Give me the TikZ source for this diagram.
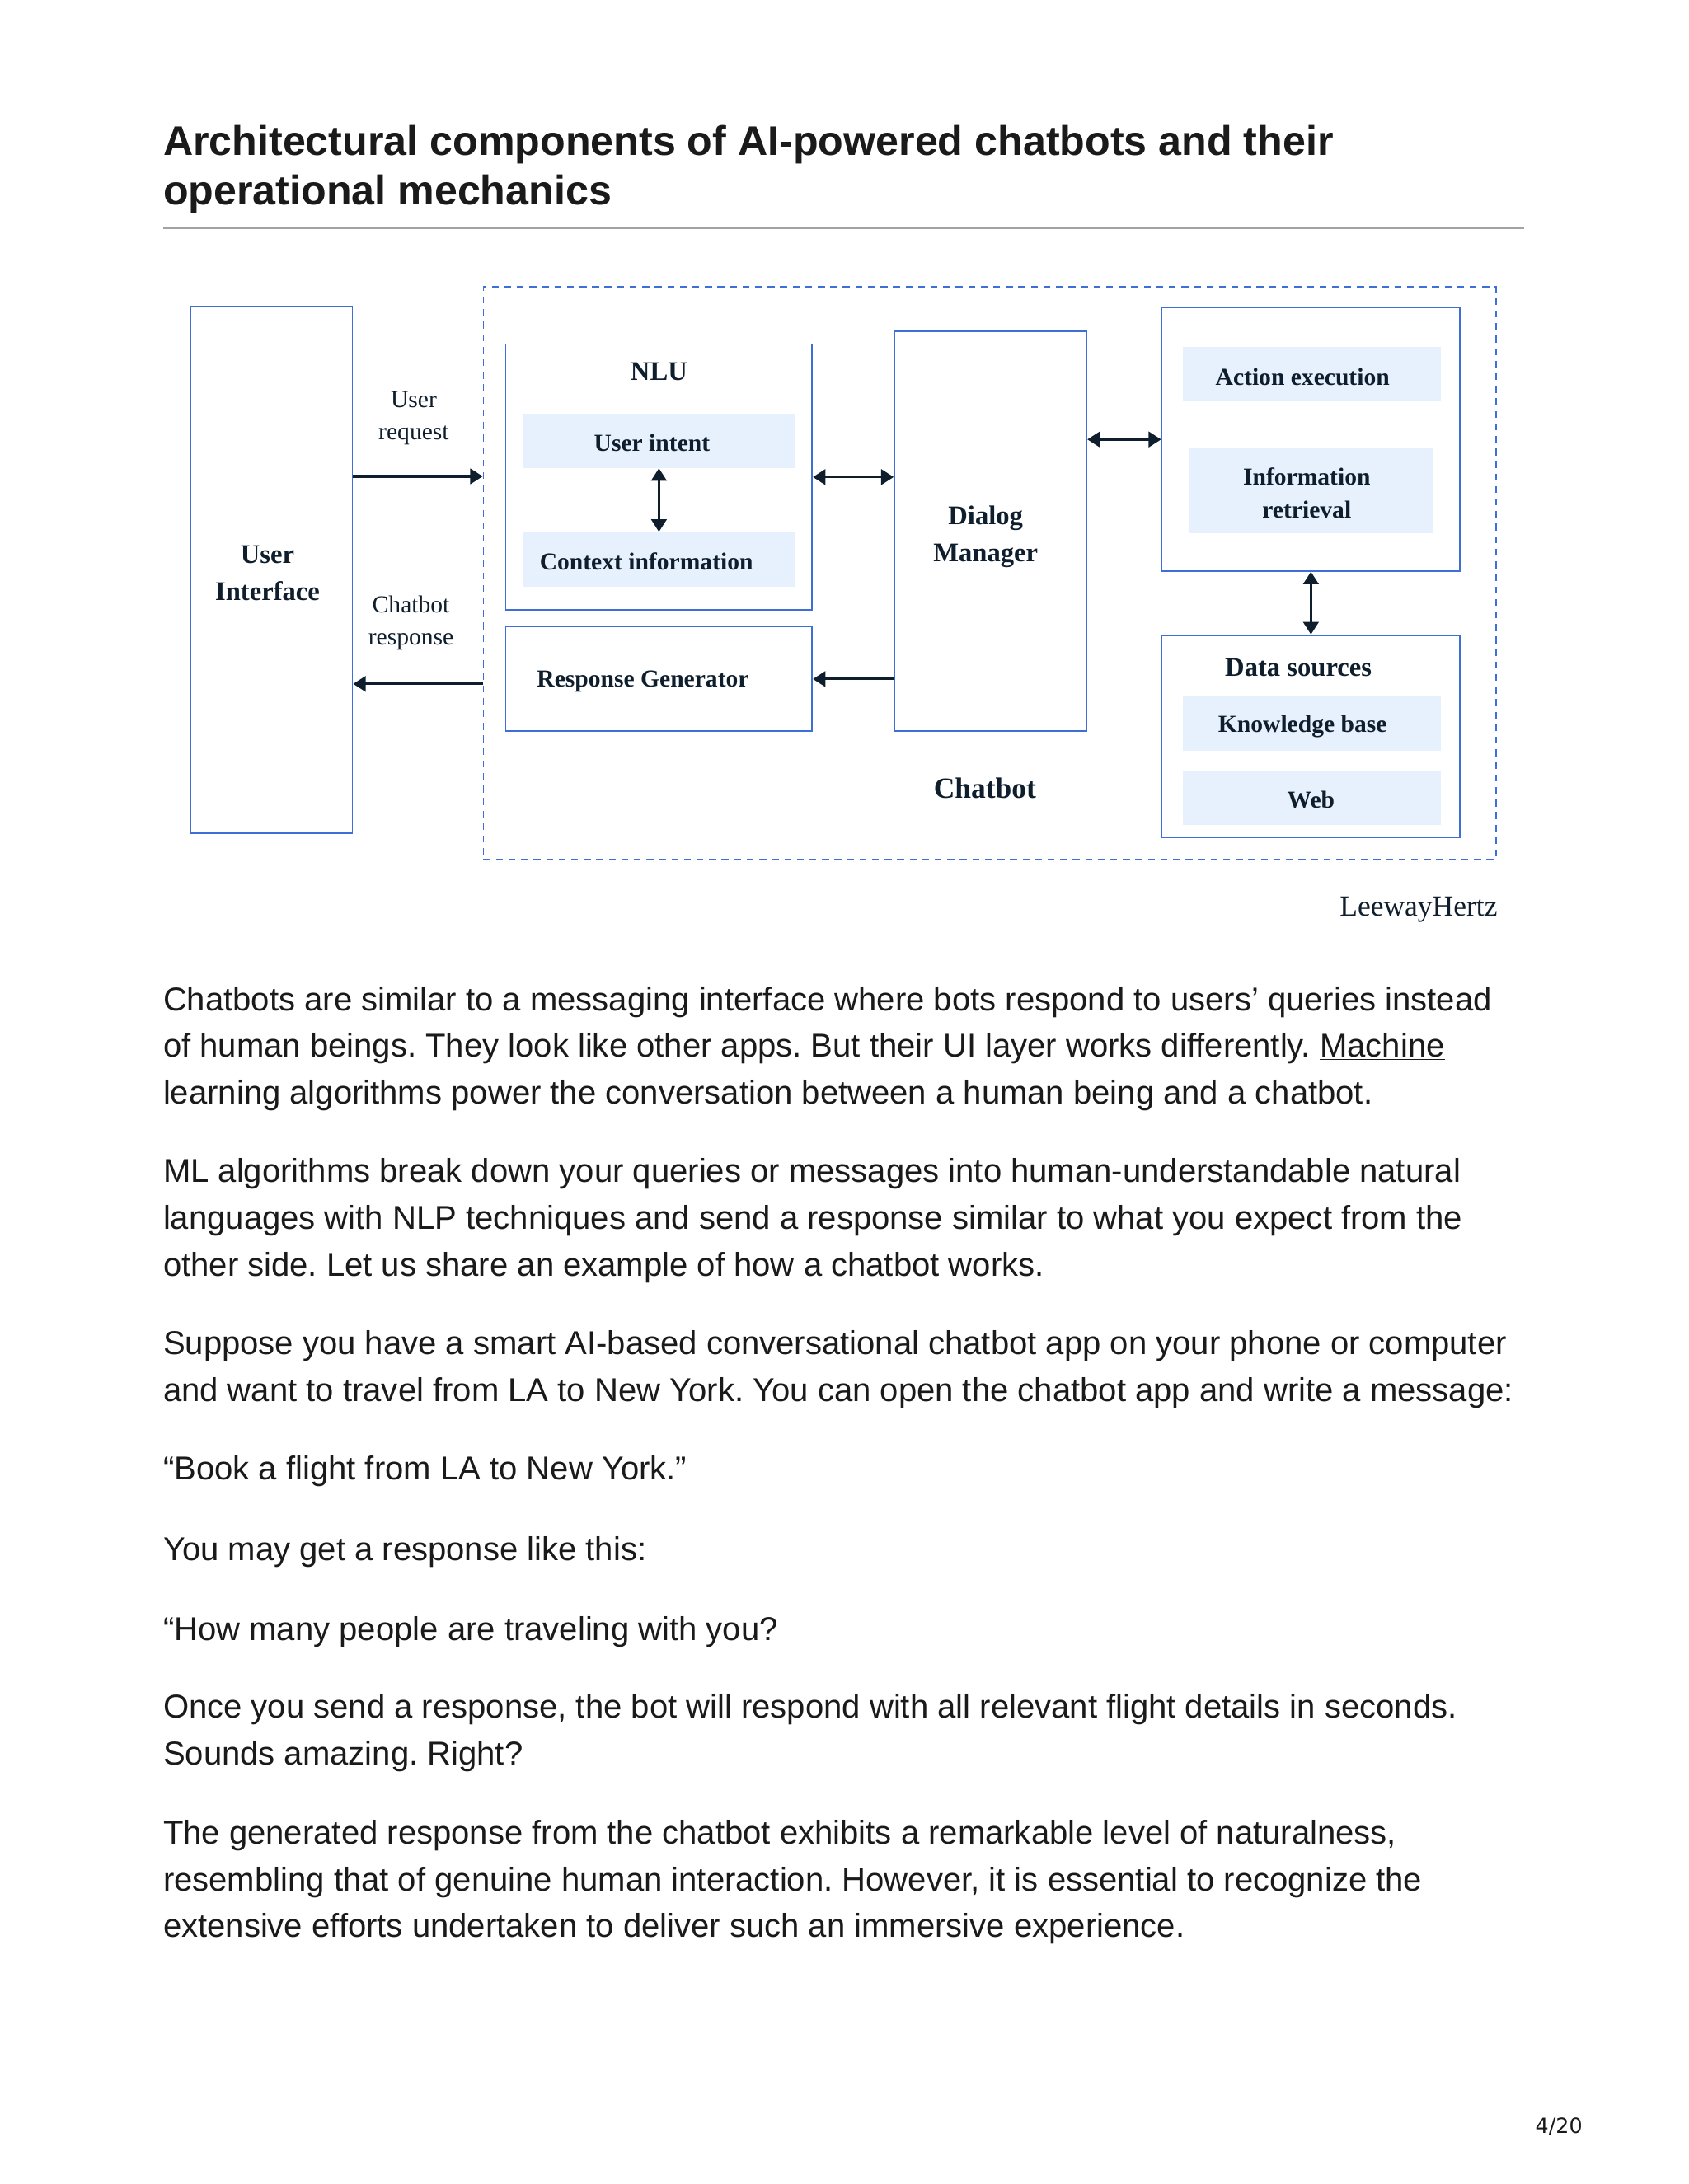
\documentclass[tikz,border=0pt]{standalone}
\usepackage{fontspec}
\setmainfont{Liberation Serif}
\newfontfamily\bodyfont{Liberation Sans}
\newfontfamily\pagefont{DejaVu Sans}
\usetikzlibrary{arrows.meta}
\definecolor{boxblue}{HTML}{3D6FD6}
\definecolor{fillblue}{HTML}{E7F0FD}
\definecolor{ink}{HTML}{0F1E2C}
\definecolor{bodyink}{HTML}{1A1A1A}
\definecolor{rulegray}{HTML}{A3A3A3}
\newcommand\boxhead{\fontsize{19.3}{26.5}\selectfont\bfseries}
\newcommand\boxitem{\fontsize{17.5}{24}\selectfont\bfseries}
\newcommand\arrowtext{\fontsize{17.5}{23}\selectfont}
\newcommand\bodytext{\bodyfont\fontsize{23.7}{33}\selectfont}
\frenchspacing

\begin{document}
\begin{tikzpicture}[x=1pt,y=-1pt,
        block/.style={draw=boxblue,line width=1pt,inner sep=0pt},
        cell/.style={fill=fillblue,inner sep=0pt},
        celltext/.style={text=ink,font=\boxitem,align=center,inner sep=0pt},
        arr/.style={draw=ink,line width=1.8pt,-{Triangle[length=9pt,width=11pt]}},
        dbl/.style={draw=ink,line width=1.8pt,{Triangle[length=9pt,width=11pt]}-{Triangle[length=9pt,width=11pt]}},
        tag/.style={text=ink,font=\arrowtext,align=center,inner sep=0pt},
        body/.style={text=bodyink,font=\bodytext,inner sep=0pt,anchor=base west}
    ]
    \fill[white] (0,0) rectangle (1212,1568);
    \useasboundingbox (0,0) rectangle (1212,1568);

    % heading
    \node[body,font=\bodyfont\fontsize{29.7}{36}\selectfont\bfseries] (title1) at (117,111.3)
        {Architectural components of AI-powered chatbots and their};
    \node[body,font=\bodyfont\fontsize{29.7}{36}\selectfont\bfseries] (title2) at (117,146.8)
        {operational mechanics};
    \draw[rulegray,line width=1.6pt] (117,163.7) -- (1094,163.7);

    % diagram
    \node[draw=boxblue,line width=1pt,dash pattern=on 5pt off 4pt,minimum width=727pt,minimum height=411pt] (frame) at (710.5,411.5) {};
    \node[block,minimum width=116pt,minimum height=378pt] (ui) at (195,409) {};
    \node[tag,font=\boxhead] (uitext) at (192,411.5) {User\\Interface};

    \node[block,minimum width=220pt,minimum height=191pt] (nlu) at (473,342.5) {};
    \node[tag,font=\boxhead] (nlutext) at (473,267) {NLU};
    \node[cell,minimum width=196pt,minimum height=39pt] (intent) at (473,316.5) {};
    \node[celltext] (intenttext) at (468,318) {User intent};
    \node[cell,minimum width=196pt,minimum height=39pt] (context) at (473,401.5) {};
    \node[celltext] (contexttext) at (464,403) {Context information};
    \node[block,minimum width=220pt,minimum height=75pt] (resp) at (473,487.5) {};
    \node[celltext] (resptext) at (461.5,489.5) {Response Generator};

    \node[block,minimum width=138pt,minimum height=287pt] (dm) at (711,381.5) {};
    \node[tag,font=\boxhead] (dmtext) at (707.5,385.5) {Dialog\\Manager};
    \node[tag,font=\fontsize{21}{26}\selectfont\bfseries] (botname) at (707,566) {Chatbot};

    \node[block,minimum width=214pt,minimum height=189pt] (act) at (941,315.5) {};
    \node[cell,minimum width=185pt,minimum height=39pt] (exec) at (941.5,268.5) {};
    \node[celltext] (exectext) at (935,270.5) {Action execution};
    \node[cell,minimum width=175pt,minimum height=62pt] (info) at (941.5,352) {};
    \node[celltext] (infotext) at (938,354) {Information\\retrieval};

    \node[block,minimum width=214pt,minimum height=145pt] (data) at (941,528.5) {};
    \node[tag,font=\boxhead] (datatext) at (932,479) {Data sources};
    \node[cell,minimum width=185pt,minimum height=39pt] (kb) at (941.5,519.5) {};
    \node[celltext] (kbtext) at (935,521.5) {Knowledge base};
    \node[cell,minimum width=185pt,minimum height=39pt] (web) at (941.5,572.5) {};
    \node[celltext] (webtext) at (941,574.5) {Web};

    \node[tag] (reqtext) at (297,300.5) {User\\request};
    \node[tag] (anstext) at (295,447.5) {Chatbot\\response};
    \coordinate (req) at (300,342);
    \coordinate (ans) at (300,491);

    \draw[arr] (req -| ui.east) -- (req -| frame.west);
    \draw[arr] (ans -| frame.west) -- (ans -| ui.east);
    \draw[dbl] (intent.south) -- (context.north);
    \draw[dbl] (nlu.east) -- (nlu.east -| dm.west);
    \draw[arr] (resp.east -| dm.west) -- (resp.east);
    \draw[dbl] (act.west -| dm.east) -- (act.west);
    \draw[dbl] (act.south) -- (data.north);

    \node[tag,font=\fontsize{21}{26}\selectfont,anchor=east] (brand) at (1075,653) {LeewayHertz};

    % article text
    \foreach \y/\t [count=\i] in {
        725.5/{Chatbots are similar to a messaging interface where bots respond to users’ queries instead},
        759/{of human beings. They look like other apps. But their UI layer works differently. \underline{Machine}},
        792.5/{\underline{learning algorithms} power the conversation between a human being and a chatbot.},
        849/{ML algorithms break down your queries or messages into human-understandable natural},
        882.5/{languages with NLP techniques and send a response similar to what you expect from the},
        916/{other side. Let us share an example of how a chatbot works.},
        972.5/{Suppose you have a smart AI-based conversational chatbot app on your phone or computer},
        1006/{and want to travel from LA to New York. You can open the chatbot app and write a message:},
        1062.5/{“Book a flight from LA to New York.”},
        1120.5/{You may get a response like this:},
        1177.5/{“How many people are traveling with you?},
        1233.5/{Once you send a response, the bot will respond with all relevant flight details in seconds.},
        1267/{Sounds amazing. Right?},
        1324/{The generated response from the chatbot exhibits a remarkable level of naturalness,},
        1357.5/{resembling that of genuine human interaction. However, it is essential to recognize the},
        1391/{extensive efforts undertaken to deliver such an immersive experience.}}
        \node[body] (line\i) at (117,\y) {\t};

    \node[text=bodyink,font=\pagefont\fontsize{15}{18}\selectfont,inner sep=0pt] (page) at (1119,1527) {4/20};
\end{tikzpicture}
\end{document}
